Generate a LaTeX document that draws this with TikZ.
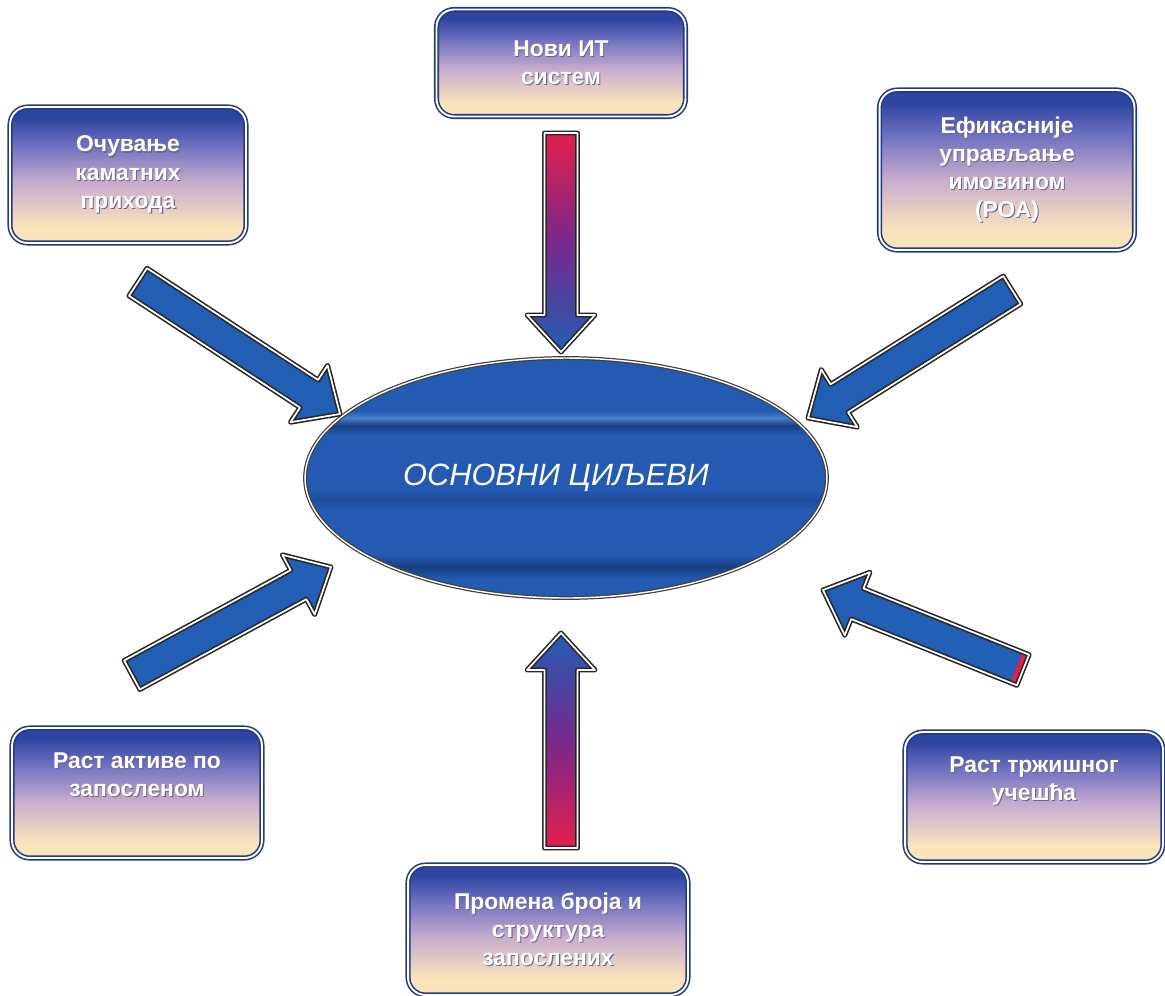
\documentclass[tikz,border=0pt]{standalone}
\usepackage{fontspec}
\setmainfont{Liberation Sans}
\usepackage{xcolor}
\usetikzlibrary{shapes.geometric,calc}

\definecolor{boxtop}{RGB}{45,68,160}
\definecolor{boxmid}{RGB}{110,112,192}
\definecolor{boxmauve}{RGB}{200,172,205}
\definecolor{boxpeach}{RGB}{250,228,188}
\definecolor{boxnavy}{RGB}{35,58,128}
\definecolor{ellblue}{RGB}{36,90,178}
\definecolor{elldark}{RGB}{24,62,128}
\definecolor{ellmid}{RGB}{30,76,155}
\definecolor{elllight}{RGB}{75,125,200}
\definecolor{arrblue}{RGB}{34,94,180}
\definecolor{arrred}{RGB}{228,30,75}
\definecolor{arrpurple}{RGB}{120,40,140}
\definecolor{txtshadow}{RGB}{110,105,140}

\pgfdeclareverticalshading{boxshade}{100bp}{color(0bp)=(boxpeach); color(25bp)=(boxpeach); color(31bp)=(boxpeach); color(47bp)=(boxmauve); color(61bp)=(boxmid); color(71bp)=(boxtop); color(100bp)=(boxtop)}
\pgfdeclareverticalshading{ellshade}{100bp}{color(0bp)=(ellblue); color(29bp)=(ellblue); color(31.5bp)=(elldark); color(34bp)=(ellblue); color(43.5bp)=(ellblue); color(45.5bp)=(ellmid); color(47.5bp)=(ellblue); color(59bp)=(ellblue); color(61bp)=(elldark); color(62.5bp)=(elllight); color(64bp)=(ellblue); color(100bp)=(ellblue)}

\newcommand\arrbody{0.33cm}
\newcommand\arrwing{0.68cm}
\newcommand\arrhead{0.74cm}
% white text with a soft shadow
\newcommand\shd[1]{\rlap{\kern0.6pt\raisebox{-0.6pt}{\textcolor{txtshadow}{#1}}}#1}
% block arrow from base #2 to tip #3
\newcommand\blockarrow[3][]{%
  \coordinate (#2-n) at ($(#3)!\arrhead!(#2)$);
  \path[#1] ($(#2)!\arrbody!90:(#3)$) -- ($(#2-n)!\arrbody!90:(#3)$)
    -- ($(#2-n)!\arrwing!90:(#3)$) -- (#3)
    -- ($(#2-n)!\arrwing!-90:(#3)$) -- ($(#2-n)!\arrbody!-90:(#3)$)
    -- ($(#2)!\arrbody!-90:(#3)$) -- cycle;}

\tikzset{
  tgtbox/.style={draw=boxnavy, double=white, line width=0.9pt, double distance=1.1pt, rounded corners=10pt, shade, shading=boxshade, align=center, text=white, font=\bfseries\fontsize{13}{16}\selectfont, inner sep=2pt},
  goalell/.style={ellipse, minimum width=10.44cm, minimum height=4.8cm, inner sep=0pt, shade, shading=ellshade, draw=black!75, double=white, line width=0.7pt, double distance=0.8pt, text=white, font=\itshape\fontsize{17.5}{20}\selectfont},
  arrline/.style={draw=black!85, double=white, line width=0.9pt, double distance=1pt, line join=round},
  arrfill/.style={fill=arrblue}
}

\begin{document}
\begin{tikzpicture}[x=0.02cm,y=-0.02cm]
\useasboundingbox (0,0) rectangle (1165,995);
% centre
\node[goalell] (goal) at (566,478) {\hspace*{-0.4cm}ОСНОВНИ ЦИЉЕВИ};
% goals
\node[tgtbox, minimum width=4.98cm, minimum height=2.14cm] (nit) at (561,63) {\shd{Нови ИТ}\\\shd{систем}};
\node[tgtbox, minimum width=4.72cm, minimum height=2.72cm] (kam) at (128,175) {\shd{Очување}\\\shd{каматних}\\\shd{прихода}};
\node[tgtbox, minimum width=5.1cm, minimum height=3.2cm] (roa) at (1007,170) {\shd{Ефикасније}\\\shd{управљање}\\\shd{имовином}\\\shd{(РОА)}};
\node[tgtbox, minimum width=5cm, minimum height=2.6cm] (akt) at (137,793) {\shd{Раст активе по}\\\shd{запосленом}\\\strut};
\node[tgtbox, minimum width=5.16cm, minimum height=2.6cm] (trz) at (1034,797) {\shd{Раст тржишног}\\\shd{учешћа}\\\strut};
\node[tgtbox, minimum width=5.6cm, minimum height=2.6cm] (zap) at (548,930) {\shd{Промена броја и}\\\shd{структура}\\\shd{запослених}};
% arrow ends
\coordinate (a-nit) at (561,133);  \coordinate (t-nit) at (561,352);
\coordinate (a-kam) at (138,282);  \coordinate (t-kam) at (340,414);
\coordinate (a-roa) at (1012,290); \coordinate (t-roa) at (808,418);
\coordinate (a-akt) at (132,675);  \coordinate (t-akt) at (331,567);
\coordinate (a-trz) at (1023,670); \coordinate (t-trz) at (823,590);
\coordinate (a-zap) at (561,848);  \coordinate (t-zap) at (561,633);
% arrows
\blockarrow[arrline, top color=arrred, bottom color=arrblue, middle color=arrpurple]{a-nit}{t-nit}
\blockarrow[arrline, top color=arrblue, bottom color=arrred, middle color=arrpurple]{a-zap}{t-zap}
\blockarrow[arrline, arrfill]{a-kam}{t-kam}
\blockarrow[arrline, arrfill]{a-roa}{t-roa}
\blockarrow[arrline, arrfill]{a-akt}{t-akt}
\blockarrow[arrfill]{a-trz}{t-trz}
\coordinate (a-trz-s) at ($(a-trz)!0.14cm!(t-trz)$);
\fill[arrred] ($(a-trz)!\arrbody!90:(t-trz)$) -- ($(a-trz-s)!\arrbody!90:(t-trz)$) -- ($(a-trz-s)!\arrbody!-90:(t-trz)$) -- ($(a-trz)!\arrbody!-90:(t-trz)$) -- cycle;
\blockarrow[arrline]{a-trz}{t-trz}
\end{tikzpicture}
\end{document}
